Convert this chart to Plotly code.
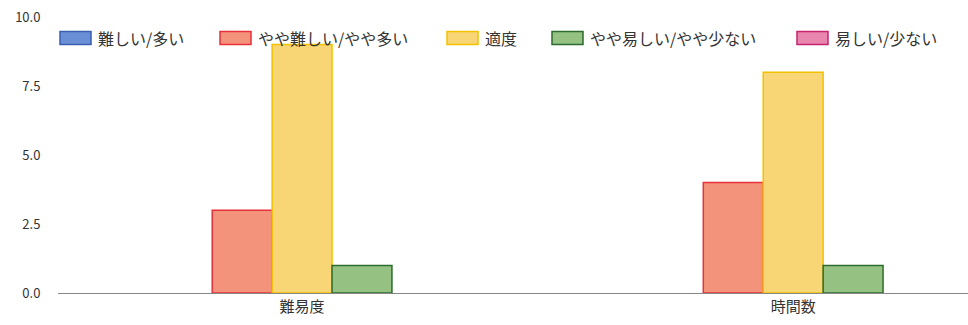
import plotly.graph_objects as go

categories = ["難易度", "時間数"]
series_names = ["難しい/多い", "やや難しい/やや多い", "適度", "やや易しい/やや少ない", "易しい/少ない"]
values_hard = [0, 0]
values_somewhat_hard = [3, 4]
values_moderate = [9, 8]
values_somewhat_easy = [1, 1]
values_easy = [0, 0]
series_values = [values_hard, values_somewhat_hard, values_moderate, values_somewhat_easy, values_easy]
fill_colors = ["#6b8fd6", "#f4937b", "#f8d675", "#95c283", "#e986b0"]
line_colors = ["#3a5fb0", "#e8303a", "#f2c200", "#2e6b2e", "#c8236e"]
y_ticks = [0, 2.5, 5, 7.5, 10]

W, H = 968, 325
L, R, T, B = 58, 0, 17, 32
pw, ph = W - L - R, H - T - B

fig = go.Figure()
for name, vals, fc, lc in zip(series_names, series_values, fill_colors, line_colors):
    widths = [1.5 if v else 0 for v in vals]
    fig.add_trace(go.Bar(x=categories, y=vals, name=name,
                         marker=dict(color=fc, line=dict(color=lc, width=widths)),
                         showlegend=False))

# custom legend (wide swatches like the reference)
legend_x_px = [60, 220, 447, 552, 797]
sw_w, sw_h, y_c = 31, 13, 38
for name, fc, lc, xp in zip(series_names, fill_colors, line_colors, legend_x_px):
    x0 = (xp - L) / pw
    x1 = (xp + sw_w - L) / pw
    y0 = (H - B - (y_c + sw_h / 2)) / ph
    y1 = (H - B - (y_c - sw_h / 2)) / ph
    fig.add_shape(type="rect", xref="paper", yref="paper", x0=x0, x1=x1, y0=y0, y1=y1,
                  fillcolor=fc, line=dict(color=lc, width=1.5))
    fig.add_annotation(xref="paper", yref="paper", x=(xp + sw_w + 5 - L) / pw,
                       y=(H - B - y_c) / ph, text=name, showarrow=False,
                       xanchor="left", yanchor="middle",
                       font=dict(size=16, color="#333"))

fig.update_layout(
    width=W, height=H,
    margin=dict(l=L, r=R, t=T, b=B, pad=0),
    paper_bgcolor="white", plot_bgcolor="white",
    barmode="group", bargap=0.39, bargroupgap=0,
    font=dict(family="Noto Sans CJK JP", color="#333"),
    xaxis=dict(range=[-0.497, 1.356], showgrid=False, showline=True,
               linecolor="#888", linewidth=1, ticks="", tickfont=dict(size=15, color="#333")),
    yaxis=dict(range=[0, 10], tickvals=y_ticks, tickformat=".1f", showgrid=False,
               zeroline=False, showline=False, ticks="outside", ticklen=14,
               tickcolor="rgba(0,0,0,0)", tickfont=dict(size=13, color="#333")),
)
fig.write_html("out.html")
